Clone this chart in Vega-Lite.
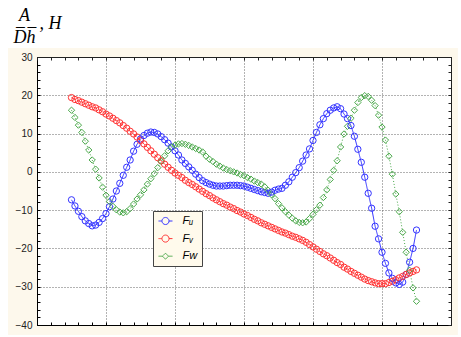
{
  "$schema": "https://vega.github.io/schema/vega-lite/v6.json",
  "width": 414,
  "height": 268,
  "autosize": "none",
  "padding": {"left": 37, "top": 57, "right": 10, "bottom": 12},
  "background": "#fdf8ec",
  "config": {"view": {"fill": "white", "stroke": null}},
  "data": {"values": [
    {"x":0.5,"Fu":-7.3,"Fv":19.4,"Fw":16.1},
    {"x":0.55,"Fu":-8.9,"Fv":18.9,"Fw":14.2},
    {"x":0.6,"Fu":-10.3,"Fv":18.6,"Fw":12.2},
    {"x":0.65,"Fu":-11.7,"Fv":18.2,"Fw":10.3},
    {"x":0.7,"Fu":-12.8,"Fv":17.8,"Fw":8.0},
    {"x":0.75,"Fu":-13.5,"Fv":17.4,"Fw":5.7},
    {"x":0.8,"Fu":-14.1,"Fv":17.0,"Fw":3.1},
    {"x":0.85,"Fu":-13.9,"Fv":16.7,"Fw":0.7},
    {"x":0.9,"Fu":-13.2,"Fv":16.2,"Fw":-1.6},
    {"x":0.95,"Fu":-12.2,"Fv":15.7,"Fw":-4.0},
    {"x":1.0,"Fu":-10.9,"Fv":15.1,"Fw":-6.1},
    {"x":1.05,"Fu":-9.1,"Fv":14.6,"Fw":-7.7},
    {"x":1.1,"Fu":-7.1,"Fv":14.0,"Fw":-9.0},
    {"x":1.15,"Fu":-5.0,"Fv":13.4,"Fw":-9.9},
    {"x":1.2,"Fu":-3.0,"Fv":12.8,"Fw":-10.5},
    {"x":1.25,"Fu":-0.9,"Fv":12.1,"Fw":-10.7},
    {"x":1.3,"Fu":1.2,"Fv":11.4,"Fw":-10.4},
    {"x":1.35,"Fu":3.1,"Fv":10.6,"Fw":-9.6},
    {"x":1.4,"Fu":5.4,"Fv":9.9,"Fw":-8.4},
    {"x":1.45,"Fu":7.2,"Fv":9.1,"Fw":-7.1},
    {"x":1.5,"Fu":8.6,"Fv":8.2,"Fw":-6.0},
    {"x":1.55,"Fu":9.5,"Fv":7.3,"Fw":-4.7},
    {"x":1.6,"Fu":10.1,"Fv":6.4,"Fw":-3.2},
    {"x":1.65,"Fu":10.4,"Fv":5.5,"Fw":-1.8},
    {"x":1.7,"Fu":10.3,"Fv":4.6,"Fw":-0.5},
    {"x":1.75,"Fu":9.9,"Fv":3.7,"Fw":1.1},
    {"x":1.8,"Fu":9.2,"Fv":2.9,"Fw":2.7},
    {"x":1.85,"Fu":8.4,"Fv":2.0,"Fw":4.2},
    {"x":1.9,"Fu":7.5,"Fv":1.2,"Fw":5.5},
    {"x":1.95,"Fu":6.5,"Fv":0.4,"Fw":6.5},
    {"x":2.0,"Fu":5.5,"Fv":-0.3,"Fw":7.0},
    {"x":2.05,"Fu":4.4,"Fv":-0.9,"Fw":7.3},
    {"x":2.1,"Fu":3.1,"Fv":-1.5,"Fw":7.4},
    {"x":2.15,"Fu":2.2,"Fv":-2.2,"Fw":7.2},
    {"x":2.2,"Fu":1.3,"Fv":-2.8,"Fw":6.9},
    {"x":2.25,"Fu":0.4,"Fv":-3.3,"Fw":6.5},
    {"x":2.3,"Fu":-0.6,"Fv":-3.9,"Fw":6.1},
    {"x":2.35,"Fu":-1.5,"Fv":-4.5,"Fw":5.7},
    {"x":2.4,"Fu":-2.3,"Fv":-5.1,"Fw":5.2},
    {"x":2.45,"Fu":-2.8,"Fv":-5.7,"Fw":4.1},
    {"x":2.5,"Fu":-3.2,"Fv":-6.2,"Fw":3.3},
    {"x":2.55,"Fu":-3.5,"Fv":-6.8,"Fw":2.7},
    {"x":2.6,"Fu":-3.7,"Fv":-7.3,"Fw":2.0},
    {"x":2.65,"Fu":-3.7,"Fv":-7.8,"Fw":1.5},
    {"x":2.7,"Fu":-3.7,"Fv":-8.3,"Fw":1.0},
    {"x":2.75,"Fu":-3.6,"Fv":-8.7,"Fw":0.6},
    {"x":2.8,"Fu":-3.5,"Fv":-9.2,"Fw":0.3},
    {"x":2.85,"Fu":-3.5,"Fv":-9.6,"Fw":0.0},
    {"x":2.9,"Fu":-3.5,"Fv":-10.1,"Fw":-0.3},
    {"x":2.95,"Fu":-3.6,"Fv":-10.5,"Fw":-0.7},
    {"x":3.0,"Fu":-3.7,"Fv":-11.0,"Fw":-1.0},
    {"x":3.05,"Fu":-4.0,"Fv":-11.4,"Fw":-1.5},
    {"x":3.1,"Fu":-4.3,"Fv":-11.9,"Fw":-1.9},
    {"x":3.15,"Fu":-4.6,"Fv":-12.4,"Fw":-2.4},
    {"x":3.2,"Fu":-4.9,"Fv":-12.8,"Fw":-2.8},
    {"x":3.25,"Fu":-5.2,"Fv":-13.3,"Fw":-3.2},
    {"x":3.3,"Fu":-5.4,"Fv":-13.7,"Fw":-3.9},
    {"x":3.35,"Fu":-5.6,"Fv":-14.1,"Fw":-4.8},
    {"x":3.4,"Fu":-5.3,"Fv":-14.5,"Fw":-6.0},
    {"x":3.45,"Fu":-4.8,"Fv":-14.9,"Fw":-7.0},
    {"x":3.5,"Fu":-4.5,"Fv":-15.3,"Fw":-8.3},
    {"x":3.55,"Fu":-4.3,"Fv":-15.7,"Fw":-9.4},
    {"x":3.6,"Fu":-3.5,"Fv":-16.0,"Fw":-10.4},
    {"x":3.65,"Fu":-2.6,"Fv":-16.4,"Fw":-11.3},
    {"x":3.7,"Fu":-1.4,"Fv":-16.8,"Fw":-12.1},
    {"x":3.75,"Fu":-0.2,"Fv":-17.1,"Fw":-12.8},
    {"x":3.8,"Fu":1.1,"Fv":-17.5,"Fw":-13.2},
    {"x":3.85,"Fu":2.8,"Fv":-17.9,"Fw":-13.3},
    {"x":3.9,"Fu":4.4,"Fv":-18.4,"Fw":-13.1},
    {"x":3.95,"Fu":6.0,"Fv":-19.0,"Fw":-12.2},
    {"x":4.0,"Fu":8.2,"Fv":-19.6,"Fw":-11.1},
    {"x":4.05,"Fu":10.3,"Fv":-20.2,"Fw":-9.9},
    {"x":4.1,"Fu":12.3,"Fv":-20.8,"Fw":-8.7},
    {"x":4.15,"Fu":13.9,"Fv":-21.4,"Fw":-6.7},
    {"x":4.2,"Fu":15.2,"Fv":-21.9,"Fw":-4.7},
    {"x":4.25,"Fu":16.1,"Fv":-22.5,"Fw":-2.0},
    {"x":4.3,"Fu":16.7,"Fv":-23.1,"Fw":0.4},
    {"x":4.35,"Fu":17.0,"Fv":-23.7,"Fw":2.9},
    {"x":4.4,"Fu":16.5,"Fv":-24.2,"Fw":6.5},
    {"x":4.45,"Fu":15.1,"Fv":-24.9,"Fw":9.9},
    {"x":4.5,"Fu":13.9,"Fv":-25.4,"Fw":11.9},
    {"x":4.55,"Fu":12.1,"Fv":-26.0,"Fw":14.0},
    {"x":4.6,"Fu":9.3,"Fv":-26.5,"Fw":16.1},
    {"x":4.65,"Fu":5.9,"Fv":-27.0,"Fw":18.1},
    {"x":4.7,"Fu":2.5,"Fv":-27.5,"Fw":19.4},
    {"x":4.75,"Fu":-1.4,"Fv":-28.0,"Fw":19.9},
    {"x":4.8,"Fu":-5.6,"Fv":-28.4,"Fw":19.7},
    {"x":4.85,"Fu":-9.5,"Fv":-28.7,"Fw":18.7},
    {"x":4.9,"Fu":-14.2,"Fv":-29.0,"Fw":17.3},
    {"x":4.95,"Fu":-17.5,"Fv":-29.2,"Fw":14.8},
    {"x":5.0,"Fu":-21.0,"Fv":-29.2,"Fw":11.7},
    {"x":5.05,"Fu":-23.9,"Fv":-29.2,"Fw":8.3},
    {"x":5.1,"Fu":-26.4,"Fv":-28.9,"Fw":4.1},
    {"x":5.15,"Fu":-27.8,"Fv":-28.6,"Fw":-0.6},
    {"x":5.2,"Fu":-29.0,"Fv":-28.2,"Fw":-5.8},
    {"x":5.25,"Fu":-29.4,"Fv":-27.7,"Fw":-10.4},
    {"x":5.3,"Fu":-28.8,"Fv":-27.3,"Fw":-15.8},
    {"x":5.35,"Fu":-26.8,"Fv":-26.8,"Fw":-21.0},
    {"x":5.4,"Fu":-23.6,"Fv":-26.4,"Fw":-25.7},
    {"x":5.45,"Fu":-20.0,"Fv":-26.0,"Fw":-30.3},
    {"x":5.5,"Fu":-15.2,"Fv":-25.6,"Fw":-33.8}
  ]},
  "resolve": {"axis": {"x": "independent", "y": "independent"}},
  "layer": [
    {
      "data": {"values": [{}]},
      "mark": {"type": "rect", "fill": "white", "clip": false},
      "encoding": {
        "x": {"datum": -1, "type": "quantitative", "scale": {"domain": [0, 6], "nice": false, "zero": false}, "axis": null},
        "x2": {"datum": 7},
        "y": {"datum": 32.35, "type": "quantitative", "scale": {"domain": [-40, 30], "nice": false, "zero": false}, "axis": null},
        "y2": {"datum": 50}
      }
    },
    {
      "data": {"values": [{}]},
      "mark": {"type": "rect", "fill": "white", "clip": false},
      "encoding": {
        "x": {"datum": -1, "type": "quantitative", "scale": {"domain": [0, 6], "nice": false, "zero": false}, "axis": null},
        "x2": {"datum": -0.42},
        "y": {"datum": -50, "type": "quantitative", "scale": {"domain": [-40, 30], "nice": false, "zero": false}, "axis": null},
        "y2": {"datum": 50}
      }
    },
    {
      "data": {"values": [{}]},
      "mark": {"type": "rect", "fill": "white", "clip": false},
      "encoding": {
        "x": {"datum": 6.1, "type": "quantitative", "scale": {"domain": [0, 6], "nice": false, "zero": false}, "axis": null},
        "x2": {"datum": 7},
        "y": {"datum": -50, "type": "quantitative", "scale": {"domain": [-40, 30], "nice": false, "zero": false}, "axis": null},
        "y2": {"datum": 50}
      }
    },
    {
      "data": {"values": [{}]},
      "mark": {"type": "rect", "fill": "white", "clip": false},
      "encoding": {
        "x": {"datum": -1, "type": "quantitative", "scale": {"domain": [0, 6], "nice": false, "zero": false}, "axis": null},
        "x2": {"datum": 7},
        "y": {"datum": -50, "type": "quantitative", "scale": {"domain": [-40, 30], "nice": false, "zero": false}, "axis": null},
        "y2": {"datum": -42.6}
      }
    },
    {
      "transform": [{"fold": ["Fu", "Fv", "Fw"], "as": ["s", "v"]}],
      "mark": {"type": "line", "strokeWidth": 1},
      "encoding": {
        "x": {"field": "x", "type": "quantitative", "scale": {"domain": [0, 6], "nice": false, "zero": false},
          "axis": {"orient": "bottom", "title": null, "labels": false,
            "values": [0,0.2,0.4,0.6,0.8,1,1.2,1.4,1.6,1.8,2,2.2,2.4,2.6,2.8,3,3.2,3.4,3.6,3.8,4,4.2,4.4,4.6,4.8,5,5.2,5.4,5.6,5.8,6],
            "tickSize": -3, "tickColor": "#000", "domainColor": "#000",
            "grid": true, "gridColor": "#666", "gridDash": [1, 2],
            "gridOpacity": {"condition": {"test": "datum.value % 1 === 0", "value": 1}, "value": 0}}},
        "y": {"field": "v", "type": "quantitative", "scale": {"domain": [-40, 30], "nice": false, "zero": false},
          "axis": {"orient": "left", "title": null,
            "values": [-40,-38,-36,-34,-32,-30,-28,-26,-24,-22,-20,-18,-16,-14,-12,-10,-8,-6,-4,-2,0,2,4,6,8,10,12,14,16,18,20,22,24,26,28,30],
            "labelExpr": "datum.value % 10 === 0 ? datum.label : ''",
            "tickSize": -3, "tickColor": "#000", "domainColor": "#000", "labelPadding": 8,
            "labelFont": "Liberation Sans", "labelFontSize": 10, "labelColor": "#222",
            "grid": true, "gridColor": "#666", "gridDash": [1, 2],
            "gridOpacity": {"condition": {"test": "datum.value % 10 === 0", "value": 1}, "value": 0}}},
        "color": {"field": "s", "type": "nominal",
          "scale": {"domain": ["Fu", "Fv", "Fw"], "range": ["#3333ff", "#ff3333", "#4aa84a"]},
          "legend": {"orient": "none", "legendX": 116, "legendY": 154, "title": null,
            "fillColor": "#fffaec", "strokeColor": "#444", "padding": 4,
            "symbolSize": 121, "symbolOffset": 2.5, "labelOffset": 11, "rowPadding": 5.6, "symbolStrokeWidth": 1,
            "labelFont": "Liberation Sans", "labelFontStyle": "italic", "labelFontSize": 11, "labelColor": "#000",
            "labelExpr": "datum.value === 'Fu' ? 'F\u1d64\u00a0\u00a0\u00a0' : datum.value === 'Fv' ? 'F\u1d65\u00a0\u00a0\u00a0' : 'Fw\u00a0\u00a0'",
            "encode": {"symbols": {"update": {
              "shape": {"signal": "datum.value === 'Fw' ? 'M-1.27,0L-0.55,0M0.55,0L1.27,0M0,-0.55L0.55,0L0,0.55L-0.55,0Z' : 'M-1.27,0L-0.64,0M0.64,0L1.27,0M0.64,0A0.64,0.64 0 1,1 -0.64,0A0.64,0.64 0 1,1 0.64,0'"},
              "fill": {"value": "transparent"},
              "strokeDash": {"value": [1, 0]},
              "opacity": {"value": 1}}}}}},
        "strokeDash": {"condition": [{"test": "datum.s === 'Fv'", "value": [4, 2]}, {"test": "datum.s === 'Fw'", "value": [1, 2]}], "value": [1, 0]}
      }
    },
    {
      "transform": [{"fold": ["Fu", "Fv", "Fw"], "as": ["s", "v"]}],
      "mark": {"type": "point", "filled": false, "size": 40, "strokeWidth": 1, "opacity": 1},
      "encoding": {
        "x": {"field": "x", "type": "quantitative", "scale": {"domain": [0, 6], "nice": false, "zero": false},
          "axis": {"orient": "top", "labels": false, "zindex": 1,
            "values": [0,0.2,0.4,0.6,0.8,1,1.2,1.4,1.6,1.8,2,2.2,2.4,2.6,2.8,3,3.2,3.4,3.6,3.8,4,4.2,4.4,4.6,4.8,5,5.2,5.4,5.6,5.8,6],
            "tickSize": -3, "tickColor": "#222", "domainColor": "#222", "grid": false,
            "title": ["A", "D\u0305h\u0305"], "titleAngle": 0, "titleAlign": "center", "titleBaseline": "alphabetic",
            "titleX": -13, "titleY": -37, "titleLineHeight": 22,
            "titleFont": "Liberation Serif", "titleFontStyle": "italic", "titleFontWeight": "normal", "titleFontSize": 18, "titleColor": "#000"}},
        "y": {"field": "v", "type": "quantitative", "scale": {"domain": [-40, 30], "nice": false, "zero": false},
          "axis": {"orient": "right", "labels": false, "zindex": 1,
            "values": [-40,-38,-36,-34,-32,-30,-28,-26,-24,-22,-20,-18,-16,-14,-12,-10,-8,-6,-4,-2,0,2,4,6,8,10,12,14,16,18,20,22,24,26,28,30],
            "tickSize": -3, "tickColor": "#222", "domainColor": "#222", "grid": false,
            "title": ", H", "titleAngle": 0, "titleAlign": "left", "titleBaseline": "alphabetic", "titleX": -412, "titleY": -29,
            "titleFont": "Liberation Serif", "titleFontStyle": "italic", "titleFontWeight": "normal", "titleFontSize": 18, "titleColor": "#000"}},
        "color": {"field": "s", "type": "nominal",
          "scale": {"domain": ["Fu", "Fv", "Fw"], "range": ["#3333ff", "#ff3333", "#4aa84a"]}},
        "shape": {"condition": {"test": "datum.s === 'Fw'", "value": "diamond"}, "value": "circle"}
      }
    }
  ]
}
